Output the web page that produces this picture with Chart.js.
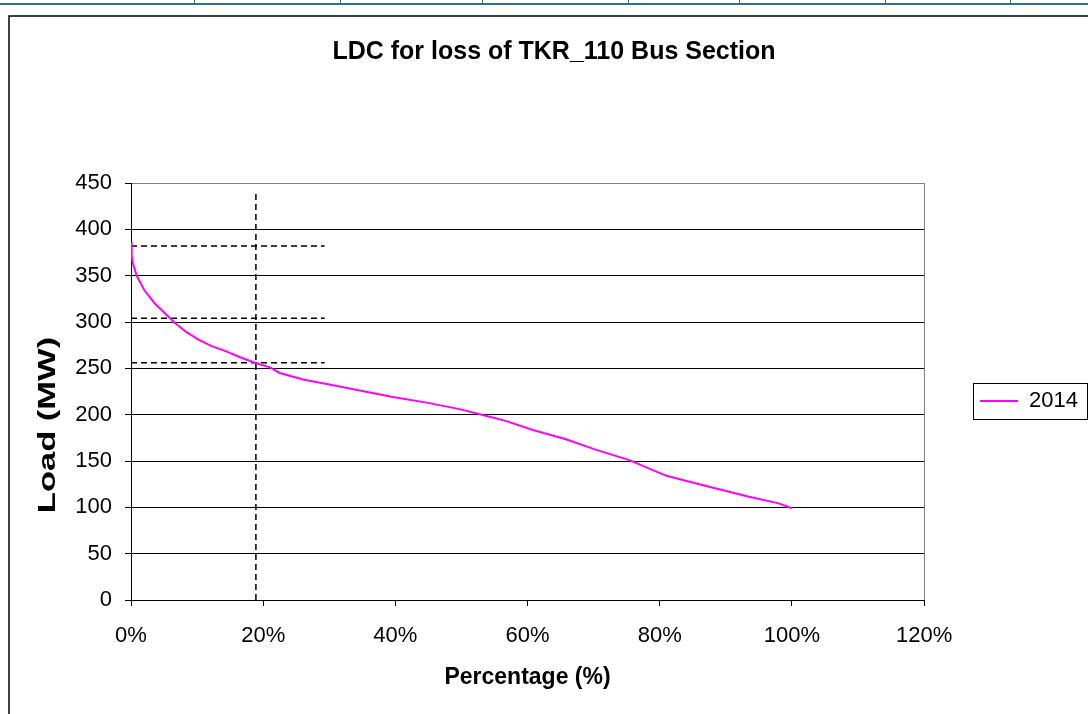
<!DOCTYPE html>
<html><head><meta charset="utf-8">
<script src="https://cdn.jsdelivr.net/npm/chart.js@4.4.0/dist/chart.umd.min.js"></script>
<style>html,body{margin:0;padding:0;background:#fff;overflow:hidden}</style>
</head><body>
<canvas id="c" width="1088" height="714"></canvas>
<script>
// ---- data ----
const seriesName = '2014';
const pct = [0, 0.1, 0.26, 0.86, 2.0, 3.6, 5.4, 6.65, 8.4, 10.2, 12.2, 14.5, 16.5, 18.7, 21, 22.5, 26, 29.6, 34.6, 39.6, 44.7, 49.7, 53.8, 56.8, 60.8, 65.8, 70.4, 75.4, 81, 87, 93.5, 98, 100];
const load2014 = [386, 372, 364, 350, 334.5, 320, 307.5, 299, 289, 281, 274, 268, 262, 256, 251, 245, 238, 233, 226, 219, 213, 206, 198.5, 193, 183.4, 173.4, 162, 151, 134, 123, 111.5, 104.3, 99];
const xTicks = [0, 20, 40, 60, 80, 100, 120];
const yTicks = [0, 50, 100, 150, 200, 250, 300, 350, 400, 450];
const markerPct = 18.9;
const markerTop = 438;
const markerLevels = [382, 304, 256];
const markerEnd = 29.3;
const titleText = 'LDC for loss of TKR_110 Bus Section';
const xTitle = 'Percentage (%)';
const yTitle = 'Load (MW)';

const FONT = "'Liberation Sans', Arial, Helvetica, sans-serif";
Chart.defaults.font.family = FONT;
Chart.defaults.color = '#000';

const curve = pct.map((x, i) => ({x: x, y: load2014[i]}));
const dashStyle = {borderColor: '#000', borderWidth: 1.5, borderDash: [6, 4], pointRadius: 0, showLine: true, fill: false};
const datasets = [
  {label: seriesName, data: curve, borderColor: '#FF00FF', backgroundColor: '#FF00FF', borderWidth: 2, pointRadius: 0, showLine: true, fill: false, tension: 0}
];
datasets.push(Object.assign({label: 'marker-v', data: [{x: markerPct, y: 0}, {x: markerPct, y: markerTop}]}, dashStyle));
markerLevels.forEach((lv, i) => {
  datasets.push(Object.assign({label: 'marker-h' + i, data: [{x: 0, y: lv}, {x: markerEnd, y: lv}]}, dashStyle));
});

const decor = {
  id: 'decor',
  beforeDraw(chart) {
    const ctx = chart.ctx;
    ctx.save();
    ctx.fillStyle = '#fff';
    ctx.fillRect(0, 0, chart.width, chart.height);
    // spreadsheet strip on top
    ctx.fillStyle = '#2E7286';
    ctx.fillRect(0, 3, chart.width, 2);
    ctx.strokeStyle = '#4a6f7a';
    ctx.lineWidth = 1;
    [194, 340, 482, 628, 739, 885, 1010].forEach(x => {
      ctx.beginPath(); ctx.moveTo(x + 0.5, 0); ctx.lineTo(x + 0.5, 3); ctx.stroke();
    });
    // chart frame
    ctx.strokeStyle = '#000';
    ctx.lineWidth = 1.5;
    ctx.beginPath();
    ctx.moveTo(9, chart.height);
    ctx.lineTo(9, 16);
    ctx.lineTo(chart.width, 16);
    ctx.stroke();
    ctx.restore();
  },
  beforeDatasetsDraw(chart) {
    const {ctx, chartArea: a} = chart;
    ctx.save();
    ctx.strokeStyle = '#808080';
    ctx.lineWidth = 1;
    ctx.beginPath();
    ctx.moveTo(Math.round(a.right) + 0.5, a.top);
    ctx.lineTo(Math.round(a.right) + 0.5, a.bottom);
    ctx.stroke();
    ctx.restore();
  },
  afterDraw(chart) {
    const ctx = chart.ctx;
    ctx.save();
    // y axis title
    ctx.translate(49, 425);
    ctx.rotate(-Math.PI / 2);
    ctx.scale(1.5, 1);
    ctx.font = 'bold 23px ' + FONT;
    ctx.fillStyle = '#000';
    ctx.textAlign = 'center';
    ctx.textBaseline = 'middle';
    ctx.fillText(yTitle, 0, 0);
    ctx.restore();
    // legend border
    const lg = chart.legend;
    if (lg && lg.legendHitBoxes && lg.legendHitBoxes.length) {
      const hb = lg.legendHitBoxes[0];
      const cy = hb.top + hb.height / 2;
      ctx.save();
      ctx.strokeStyle = '#000';
      ctx.lineWidth = 1;
      ctx.strokeRect(Math.round(lg.left) + 4.5, Math.round(cy - 18) + 0.5, Math.round(lg.right - lg.left) - 5, 36);
      ctx.restore();
    }
  }
};

new Chart(document.getElementById('c'), {
  type: 'scatter',
  data: {datasets: datasets},
  plugins: [decor],
  options: {
    responsive: false,
    animation: false,
    layout: {padding: {left: 20, top: 0, right: 0, bottom: 0}},
    plugins: {
      title: {display: true, text: titleText, font: {size: 25, weight: 'bold'}, color: '#000',
              padding: {top: 37, bottom: 116}},
      legend: {
        display: true, position: 'right', fullSize: false,
        title: {display: true, text: '', font: {size: 1}, padding: {top: 17.8, bottom: 0}},
        labels: {
          filter: item => item.text === seriesName,
          font: {size: 22}, color: '#000', padding: 11,
          usePointStyle: true, pointStyle: 'line', pointStyleWidth: 38, boxHeight: 22
        }
      },
      tooltip: {enabled: false}
    },
    scales: {
      x: {
        type: 'linear', position: 'bottom', min: 0, max: 120,
        afterBuildTicks: s => { s.ticks = xTicks.map(v => ({value: v})); },
        afterFit: s => { s.height = 114; },
        ticks: {callback: v => v + '%', font: {size: 22}, color: '#000', padding: 17, maxRotation: 0, autoSkip: false},
        grid: {drawOnChartArea: false, drawTicks: true, tickLength: 6, tickColor: '#000', color: '#000'},
        border: {display: true, color: '#000', width: 1},
        title: {display: true, text: xTitle, font: {size: 23, weight: 'bold'}, color: '#000', padding: {top: 0, bottom: 22.2}}
      },
      y: {
        type: 'linear', position: 'left', min: 0, max: 450,
        afterBuildTicks: s => { s.ticks = yTicks.map(v => ({value: v})); },
        afterFit: s => { s.width = 111; },
        ticks: {font: {size: 22}, color: '#000', padding: 13, autoSkip: false},
        grid: {color: c => (c.tick && c.tick.value === 450) ? '#808080' : '#000', tickLength: 6, tickColor: '#000', lineWidth: 1},
        border: {display: true, color: '#000', width: 1}
      },
      yR: {
        type: 'linear', position: 'right', min: 0, max: 450, display: true,
        afterFit: s => { s.width = 45; },
        ticks: {display: false},
        grid: {display: false, drawTicks: false},
        border: {display: false}
      }
    }
  }
});
</script>
</body></html>
